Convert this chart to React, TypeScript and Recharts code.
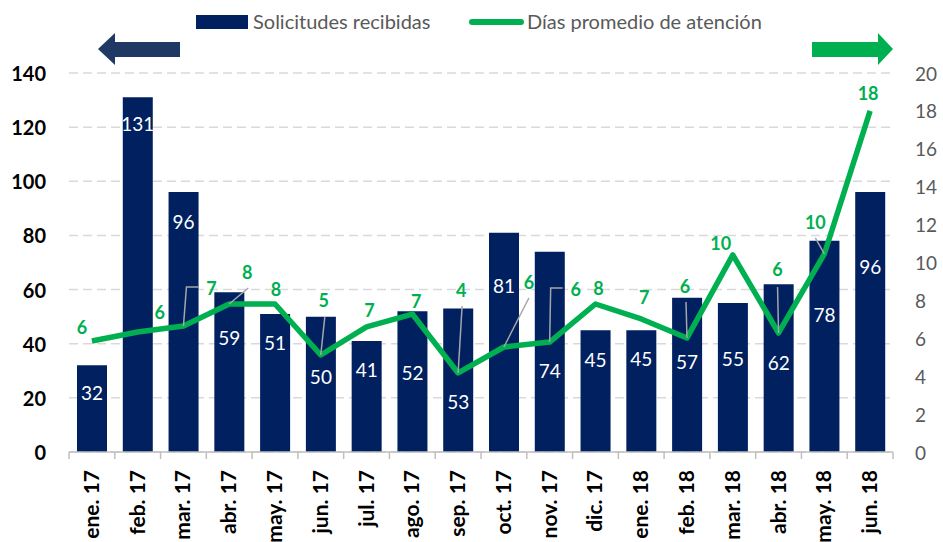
import { ComposedChart, Bar, Line, XAxis, YAxis, CartesianGrid, LabelList } from "recharts";

const MONTHS = [
  "ene. 17", "feb. 17", "mar. 17", "abr. 17", "may. 17", "jun. 17",
  "jul. 17", "ago. 17", "sep. 17", "oct. 17", "nov. 17", "dic. 17",
  "ene. 18", "feb. 18", "mar. 18", "abr. 18", "may. 18", "jun. 18",
];
const SOLICITUDES = [32, 131, 96, 59, 51, 50, 41, 52, 53, 81, 74, 45, 45, 57, 55, 62, 78, 96];
const DIAS = [5.86, 6.33, 6.65, 7.81, 7.81, 5.12, 6.6, 7.28, 4.17, 5.54, 5.8, 7.81, 7.02, 6.02, 10.4, 6.28, 10.45, 18.0];
const LEFT_TICKS = [0, 20, 40, 60, 80, 100, 120, 140];
const RIGHT_TICKS = [0, 2, 4, 6, 8, 10, 12, 14, 16, 18, 20];

// label layout (hand placed in the original workbook)
const BAR_LABEL_DROP = [27, 26, 29, 45, 29, 60, 28, 61, 93, 53, 119, 29, 28, 64, 55, 78, 74, 74];
const DIAS_LABEL_SHIFT: [number, number][] = [
  [-10, -14], [22, -20], [28, -38], [18, -32], [1, -15], [3, -55], [3, -17], [4, -13], [3, -83],
  [25, -65], [26, -53], [3, -16], [3, -22], [-2, -52], [-12, -12], [-1, -64], [-9, -32], [-2, -18],
];
const LEADERS: ([number, number][] | null)[] = [
  null, null, [[3, -39], [15, -39]], [[19, -16]], null, [[4, -38]], null, null, [[4, -67]],
  [[25, -49]], [[1, -54], [13, -54]], null, null, [[-1, -36]], null, [[-1, -46]], [[-9, -16]], null,
];

const NAVY = "#002060";
const GREEN = "#00B050";
const FONT = "Lato, 'Open Sans', sans-serif";
const W = 943;
const H = 542;
const LEFT_W = 69;
const RIGHT_W = 50;
const BAND = (W - LEFT_W - RIGHT_W) / MONTHS.length;

const data = MONTHS.map((m, i) => ({ mes: m, sol: SOLICITUDES[i], dias: DIAS[i] }));

function LeftTick({ x, y, payload }: any) {
  return (
    <text x={x - 15} y={y} textAnchor="end" dominantBaseline="central"
      fontFamily={FONT} fontSize={20} fontWeight={700} fill="#000">
      {payload.value}
    </text>
  );
}

function RightTick({ x, y, payload }: any) {
  return (
    <text x={x + 14} y={y} textAnchor="start" dominantBaseline="central"
      fontFamily={FONT} fontSize={19} fill="#595959">
      {payload.value}
    </text>
  );
}

function MonthTick({ x, y, payload, index }: any) {
  const axisY = y - 8;
  return (
    <g>
      <line x1={x - BAND / 2} x2={x - BAND / 2} y1={axisY} y2={axisY + 7} stroke="#BFBFBF" strokeWidth={1.5} />
      {index === MONTHS.length - 1 && (
        <line x1={x + BAND / 2} x2={x + BAND / 2} y1={axisY} y2={axisY + 7} stroke="#BFBFBF" strokeWidth={1.5} />
      )}
      <text transform={`translate(${x + 7},${y + 10}) rotate(-90)`} textAnchor="end"
        fontFamily={FONT} fontSize={21} fontWeight={700} fill="#000">
        {payload.value}
      </text>
    </g>
  );
}

function BarLabel({ x, y, width, value, index }: any) {
  return (
    <text x={x + width / 2} y={y + BAR_LABEL_DROP[index]} textAnchor="middle" dominantBaseline="central"
      fontFamily={FONT} fontSize={19} fill="#fff">
      {value}
    </text>
  );
}

function DiasLabel({ x, y, value, index }: any) {
  const [dx, dy] = DIAS_LABEL_SHIFT[index];
  const leader = LEADERS[index];
  return (
    <g>
      {leader && (
        <polyline
          points={[[0, 0], ...leader].map(([a, b]) => `${x + a},${y + b}`).join(" ")}
          fill="none" stroke="#A6A6A6" strokeWidth={1.5}
        />
      )}
      <text x={x + dx} y={y + dy} textAnchor="middle" dominantBaseline="central"
        fontFamily={FONT} fontSize={18} fontWeight={700} fill={GREEN}>
        {Math.round(value)}
      </text>
    </g>
  );
}

export default function App() {
  return (
    <div style={{ position: "absolute", left: 0, top: 0, width: W, height: H, background: "#fff", overflow: "hidden" }}>
      <ComposedChart width={W} height={H} data={data} margin={{ top: 73, right: 0, bottom: 0, left: 0 }}>
        <CartesianGrid yAxisId="left" vertical={false} stroke="#D9D9D9" strokeWidth={1.5} strokeDasharray="9 5" />
        <XAxis dataKey="mes" height={90} interval={0} tickLine={false}
          axisLine={{ stroke: "#BFBFBF", strokeWidth: 1.5 }} tick={<MonthTick />} />
        <YAxis yAxisId="left" width={LEFT_W} domain={[0, 140]} ticks={LEFT_TICKS}
          axisLine={false} tickLine={false} tick={<LeftTick />} />
        <YAxis yAxisId="right" orientation="right" width={RIGHT_W} domain={[0, 20]} ticks={RIGHT_TICKS}
          axisLine={false} tickLine={false} tick={<RightTick />} />
        <Bar yAxisId="left" dataKey="sol" fill={NAVY} barSize={30} isAnimationActive={false}>
          <LabelList dataKey="sol" content={<BarLabel />} />
        </Bar>
        <Line yAxisId="right" dataKey="dias" type="linear" stroke={GREEN} strokeWidth={5.5}
          strokeLinejoin="round" dot={false} activeDot={false} isAnimationActive={false}>
          <LabelList dataKey="dias" content={<DiasLabel />} />
        </Line>
      </ComposedChart>

      <svg width={W} height={80} style={{ position: "absolute", left: 0, top: 0, pointerEvents: "none" }}>
        <rect x={196} y={15} width={52} height={14} fill={NAVY} />
        <text x={253} y={21} dominantBaseline="central" fontFamily={FONT} fontSize={20} fill="#595959">
          Solicitudes recibidas
        </text>
        <line x1={472} x2={521} y1={22} y2={22} stroke={GREEN} strokeWidth={6} strokeLinecap="round" />
        <text x={527} y={21} dominantBaseline="central" fontFamily={FONT} fontSize={20} fill="#595959">
          Días promedio de atención
        </text>
        <polygon points="98,49 115,33 115,42 180,42 180,57 115,57 115,65" fill="#1F3864" />
        <polygon points="812,42 878,42 878,33 893,49 878,65 878,57 812,57" fill={GREEN} />
      </svg>
    </div>
  );
}
